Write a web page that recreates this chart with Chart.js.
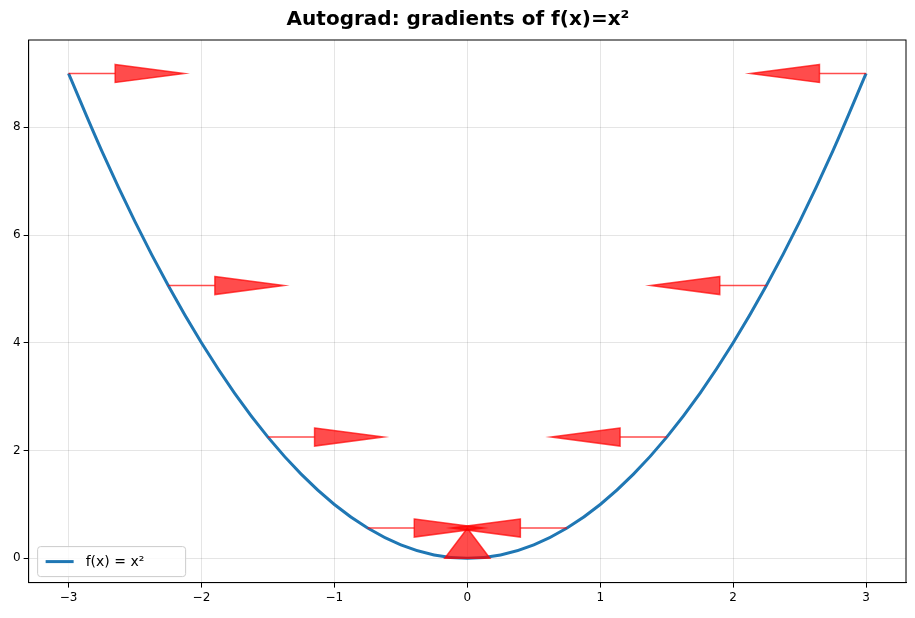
<!DOCTYPE html>
<html><head><meta charset="utf-8">
<script src="https://cdn.jsdelivr.net/npm/chart.js@4"></script>
<style>html,body{margin:0;background:#fff}#w{width:915px;height:618px}</style>
</head><body><div id="w"><canvas id="c"></canvas></div>
<script>
const curveX=[-3,-2.75,-2.5,-2.25,-2,-1.75,-1.5,-1.25,-1,-0.75,-0.5,-0.25,0,0.25,0.5,0.75,1,1.25,1.5,1.75,2,2.25,2.5,2.75,3];
const curveY=[9,7.5625,6.25,5.0625,4,3.0625,2.25,1.5625,1,0.5625,0.25,0.0625,0,0.0625,0.25,0.5625,1,1.5625,2.25,3.0625,4,5.0625,6.25,7.5625,9];
const arrowX=[-3,-2.25,-1.5,-0.75,0,0.75,1.5,2.25,3];
const arrowY=[9,5.0625,2.25,0.5625,0,0.5625,2.25,5.0625,9];
const arrowDX=[0.87,0.87,0.87,0.87,0,-0.87,-0.87,-0.87,-0.87];
const arrowDY=[0,0,0,0,0.56,0,0,0,0];
const xTicks=[-3,-2,-1,0,1,2,3];
const fmt=v=>String(v).replace('-','\u2212');
const arrows={id:'arrows',afterDatasetsDraw(ch){
 const {ctx,scales:{x,y}}=ch;ctx.save();
 ctx.beginPath();ctx.rect(ch.chartArea.left,ch.chartArea.top,ch.chartArea.width,ch.chartArea.height);ctx.clip();
 ctx.fillStyle='rgba(255,0,0,0.7)';ctx.strokeStyle='rgba(255,0,0,0.7)';ctx.lineWidth=1.5;
 for(let i=0;i<arrowX.length;i++){
  const x0=x.getPixelForValue(arrowX[i]),y0=y.getPixelForValue(arrowY[i]);
  const x1=x.getPixelForValue(arrowX[i]+arrowDX[i]),y1=y.getPixelForValue(arrowY[i]+arrowDY[i]);
  if(arrowDX[i]===0){
   const hw=x.getPixelForValue(0.17)-x.getPixelForValue(0);
   ctx.beginPath();ctx.moveTo(x0-hw,y0);ctx.lineTo(x0+hw,y0);ctx.lineTo(x1,y1);ctx.closePath();ctx.fill();ctx.stroke();continue;}
  const s=Math.sign(x1-x0),hl=69,hw=9;const bx=x1-s*hl;
  ctx.beginPath();ctx.moveTo(x0,y0);ctx.lineTo(bx,y0);ctx.stroke();
  ctx.beginPath();ctx.moveTo(bx,y0-hw);ctx.lineTo(x1,y1);ctx.lineTo(bx,y0+hw);ctx.closePath();ctx.fill();ctx.stroke();
 }
 ctx.restore();}};
new Chart(document.getElementById('c'),{type:'line',
 data:{datasets:[{label:'f(x) = x²',data:curveX.map((v,i)=>({x:v,y:curveY[i]})),borderColor:'#1f77b4',backgroundColor:'#1f77b4',borderWidth:3,pointRadius:0,tension:0.4}]},
 options:{responsive:true,maintainAspectRatio:false,animation:false,
  layout:{padding:{left:10,right:9,top:0,bottom:10}},
  plugins:{title:{display:true,text:'Autograd: gradients of f(x)=x²',font:{family:'DejaVu Sans',size:20,weight:'bold'},color:'#000',padding:{top:8,bottom:8}},
   legend:{display:false},tooltip:{enabled:false}},
  scales:{x:{type:'linear',min:-3.3,max:3.3,afterBuildTicks:a=>{a.ticks=xTicks.map(v=>({value:v}))},
    ticks:{callback:fmt,color:'#000',font:{family:'DejaVu Sans',size:12}},grid:{color:'rgba(0,0,0,0.1)',tickColor:'#000',tickLength:5},border:{color:'#000'}},
   y:{min:-0.45,max:9.62,afterBuildTicks:a=>{a.ticks=[0,2,4,6,8].map(v=>({value:v}))},
    ticks:{callback:fmt,color:'#000',font:{family:'DejaVu Sans',size:12}},grid:{color:'rgba(0,0,0,0.1)',tickColor:'#000',tickLength:5},border:{color:'#000'}}}},
 plugins:[arrows,{id:'box',afterDraw(ch){const a=ch.chartArea,c=ch.ctx;c.save();c.strokeStyle='#000';c.lineWidth=1;c.strokeRect(a.left,a.top,a.width,a.height);
   const lx=a.left+9,ly=a.bottom-36;c.fillStyle='rgba(255,255,255,0.8)';c.strokeStyle='#ccc';c.beginPath();c.roundRect(lx,ly,148,30,3);c.fill();c.stroke();
   c.strokeStyle='#1f77b4';c.lineWidth=3;c.beginPath();c.moveTo(lx+8,ly+15);c.lineTo(lx+36,ly+15);c.stroke();
   c.fillStyle='#000';c.font='14px DejaVu Sans';c.textBaseline='middle';c.fillText(ch.data.datasets[0].label,lx+48,ly+16);c.restore();}}]
});
</script></body></html>
